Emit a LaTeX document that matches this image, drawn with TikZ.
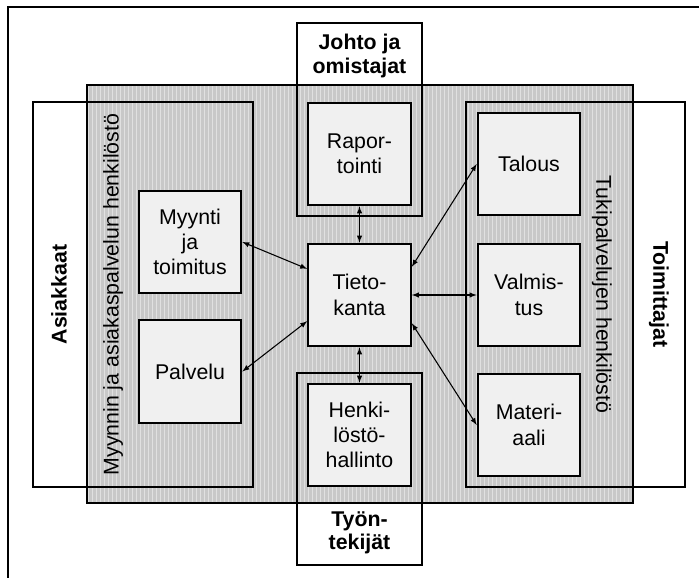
\documentclass[tikz,border=0pt]{standalone}
\usepackage{fontspec}
\setmainfont{Liberation Sans}
\usetikzlibrary{patterns, calc}
\definecolor{stripegray}{RGB}{200,200,200}
\definecolor{stripelight}{RGB}{224,224,224}
\definecolor{boxgray}{RGB}{240,240,240}

\begin{document}
\begin{tikzpicture}[x=0.75pt, y=-0.75pt,
		box/.style={draw, line width=1.5pt, fill=boxgray, minimum width=77pt, minimum height=77pt,
			inner sep=0pt, align=center, font=\fontsize{16}{19}\selectfont},
		group/.style={draw, line width=1pt},
		grouplabel/.style={font=\bfseries\fontsize{16}{17.5}\selectfont, align=center},
		stafflabel/.style={font=\fontsize{16}{19}\selectfont},
		link/.style={latex-latex, line width=0.8pt}]
		\useasboundingbox(0, 0)rectangle(699, 578);
		% frame
		\draw[line width=1.1pt](699, 7)--(8, 7)--(8, 578);
		% outer groups
		\draw[group, fill=white](33, 102)rectangle(253, 487);
		\draw[group, fill=white](466, 102)rectangle(685, 487);
		\draw[group, fill=white](297, 23)rectangle(422, 216);
		\draw[group, fill=white](297, 373)rectangle(422, 565);
		% staff area
		\fill[stripegray](87, 85)rectangle(633, 503);
		\fill[pattern=vertical lines, pattern color=stripelight](87, 85)rectangle(633, 503);
		\draw[line width=1.5pt](87, 85)rectangle(633, 503);
		\draw[group](33, 102)rectangle(253, 487);
		\draw[group](466, 102)rectangle(685, 487);
		\draw[group](297, 23)rectangle(422, 216);
		\draw[group](297, 373)rectangle(422, 565);
		% labels
		\node[grouplabel](johto)at(359.5, 56){Johto ja\\omistajat};
		\node[grouplabel](tyon)at(359.5, 533){Työn-\\tekijät};
		\node[grouplabel, rotate=90](asiakkaat)at(59, 294.5){Asiakkaat};
		\node[grouplabel, rotate=-90](toimittajat)at(659, 294.5){Toimittajat};
		\node[stafflabel, rotate=90](myynninh)at(113, 294.5){Myynnin ja asiakaspalvelun henkilöstö};
		\node[stafflabel, rotate=-90](tukih)at(602, 294.5){Tukipalvelujen henkilöstö};
		% boxes
		\node[box](rap)at(359.5, 154){Rapor-\\tointi};
		\node[box](tieto)at(359.5, 295){Tieto-\\kanta};
		\node[box](henki)at(359.5, 435){Henki-\\löstö-\\hallinto};
		\node[box](myynti)at(190, 242){Myynti\\ja\\toimitus};
		\node[box](palvelu)at(190, 371.5){Palvelu};
		\node[box](talous)at(529, 164){Talous};
		\node[box](valm)at(529, 295){Valmis-\\tus};
		\node[box](mat)at(529, 425){Materi-\\aali};
		% links
		\draw[link](myynti.east)--($(tieto.north west)!0.25!(tieto.south west)$);
		\draw[link](palvelu.east)--($(tieto.north west)!0.75!(tieto.south west)$);
		\draw[link](rap.south)--(tieto.north);
		\draw[link](tieto.south)--(henki.north);
		\draw[link]($(tieto.north east)!0.23!(tieto.south east)$)--(talous.west);
		\draw[link](tieto.east)--(valm.west);
		\draw[link]($(tieto.north east)!0.77!(tieto.south east)$)--(mat.west);
	\end{tikzpicture}
\end{document}
